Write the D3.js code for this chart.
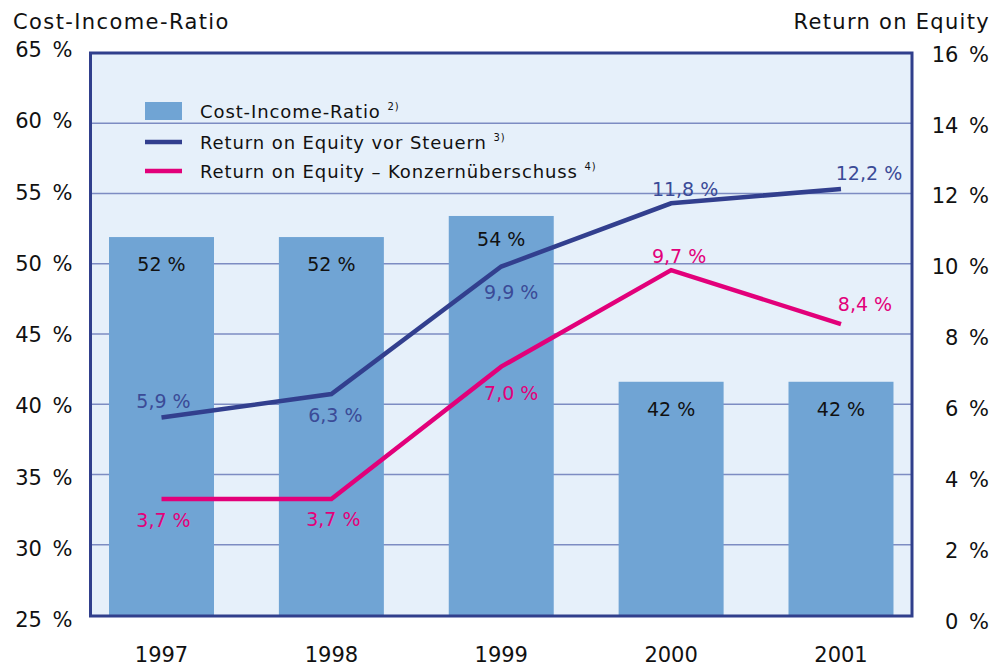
<!DOCTYPE html>
<html><head><meta charset="utf-8">
<script src="https://cdn.jsdelivr.net/npm/d3@7"></script>
<style>
html,body{margin:0;padding:0;background:#fff;}
svg{display:block;font-family:"DejaVu Sans",sans-serif;}
</style></head>
<body>
<svg id="c" width="1007" height="666"></svg>
<script>
const years = ["1997","1998","1999","2000","2001"];
const costIncome = [51.9, 51.9, 53.4, 41.6, 41.6];
const costIncomeLabels = ["52 %","52 %","54 %","42 %","42 %"];
const roeBeforeTax = [5.62, 6.29, 9.92, 11.72, 12.13];
const roeBeforeTaxLabels = ["5,9 %","6,3 %","9,9 %","11,8 %","12,2 %"];
const roeNet = [3.3, 3.3, 7.07, 9.82, 8.28];
const roeNetLabels = ["3,7 %","3,7 %","7,0 %","9,7 %","8,4 %"];
const leftTicks = [25,30,35,40,45,50,55,60,65];
const rightTicks = [0,2,4,6,8,10,12,14,16];
const legendItems = [
  {label:"Cost-Income-Ratio", sup:"2)", type:"bar"},
  {label:"Return on Equity vor Steuern", sup:"3)", type:"roe"},
  {label:"Return on Equity – Konzernüberschuss", sup:"4)", type:"net"}
];

const C = {bg:"#e6f0fa", bar:"#70a4d4", frame:"#303f8c", grid:"#7d8cc2", roe:"#323f8e", net:"#e2007a", roeText:"#3b4b97"};
const svg = d3.select("#c");
const L = 90.5, R = 912, T = 53, B = 616;

const x = d3.scaleBand().domain(years).range([L, R]).paddingInner(0.382).paddingOuter(0.109);
const yL = d3.scaleLinear().domain([25,65]).range([615,53]);
const yR = d3.scaleLinear().domain([0,16]).range([615,53]);
// tick label placement scales (labels are spaced slightly wider than gridlines)
const yLlab = d3.scaleLinear().domain([25,65]).range([619,49]);
const yRlab = d3.scaleLinear().domain([0,16]).range([621,53.5]);

svg.append("rect").attr("x",L).attr("y",T).attr("width",R-L).attr("height",B-T).attr("fill",C.bg);

// gridlines
svg.append("g").selectAll("line").data(leftTicks.filter(d=>d>25&&d<65)).join("line")
  .attr("x1",L).attr("x2",R).attr("y1",d=>yL(d)).attr("y2",d=>yL(d))
  .attr("stroke",C.grid).attr("stroke-width",1.5);

// bars
svg.append("g").selectAll("rect").data(costIncome).join("rect")
  .attr("x",(d,i)=>x(years[i])).attr("width",x.bandwidth())
  .attr("y",d=>yL(d)).attr("height",d=>B-yL(d)).attr("fill",C.bar);

// frame
svg.append("rect").attr("x",L).attr("y",T).attr("width",R-L).attr("height",B-T)
  .attr("fill","none").attr("stroke",C.frame).attr("stroke-width",3);

// bar labels
const barLabOff = [27,27,23,27,27];
svg.append("g").selectAll("text").data(costIncome).join("text")
  .attr("x",(d,i)=>x(years[i])+x.bandwidth()/2)
  .attr("y",(d,i)=>yL(d)+barLabOff[i]+7)
  .attr("text-anchor","middle").attr("font-size",19).attr("fill","#111")
  .text((d,i)=>costIncomeLabels[i]);

const cx = i => x(years[i]) + x.bandwidth()/2;
const line = arr => d3.line().x((d,i)=>cx(i)).y(d=>yR(d))(arr);

svg.append("path").attr("d",line(roeBeforeTax)).attr("fill","none").attr("stroke",C.roe).attr("stroke-width",4.5);
svg.append("path").attr("d",line(roeNet)).attr("fill","none").attr("stroke",C.net).attr("stroke-width",4.5);

// line labels offsets (dx, dy) relative to point
const roeOff = [[2,-10],[4,28],[10,32],[14,-7],[28,-9]];
const netOff = [[2,28],[2,27],[10,33],[8,-7],[24,-13]];
svg.append("g").selectAll("text").data(roeBeforeTax).join("text")
  .attr("x",(d,i)=>cx(i)+roeOff[i][0]).attr("y",(d,i)=>yR(d)+roeOff[i][1])
  .attr("text-anchor","middle").attr("font-size",19).attr("fill",C.roeText)
  .text((d,i)=>roeBeforeTaxLabels[i]);
svg.append("g").selectAll("text").data(roeNet).join("text")
  .attr("x",(d,i)=>cx(i)+netOff[i][0]).attr("y",(d,i)=>yR(d)+netOff[i][1])
  .attr("text-anchor","middle").attr("font-size",19).attr("fill",C.net)
  .text((d,i)=>roeNetLabels[i]);

// axes
function styleAxis(g){
  g.select(".domain").remove();
  g.selectAll("text").attr("font-size",21).attr("fill","#111")
    .attr("font-family","DejaVu Sans").attr("dy","0.36em").attr("word-spacing",4);
}
const axL = svg.append("g").attr("transform",`translate(${L-18},0)`)
  .call(d3.axisLeft(yLlab).tickValues(leftTicks).tickFormat(d=>d+" %").tickSize(0).tickPadding(0));
styleAxis(axL);

const axR = svg.append("g").attr("transform",`translate(989,0)`)
  .call(d3.axisLeft(yRlab).tickValues(rightTicks).tickFormat(d=>d+" %").tickSize(0).tickPadding(0));
styleAxis(axR);

const axB = svg.append("g").attr("transform",`translate(0,0)`)
  .call(d3.axisBottom(x).tickSize(0).tickPadding(0));
axB.select(".domain").remove();
axB.selectAll("text").attr("font-size",21).attr("fill","#111").attr("font-family","DejaVu Sans").attr("y",662).attr("dy",0);

// titles
svg.append("text").attr("x",13).attr("y",29).attr("font-size",21).attr("letter-spacing",1.4).attr("fill","#111").text("Cost-Income-Ratio");
svg.append("text").attr("x",990).attr("y",28.5).attr("text-anchor","end").attr("font-size",21).attr("letter-spacing",1.3).attr("fill","#111").text("Return on Equity");

// legend
const lg = svg.append("g");
const ly = [111, 142, 171];
legendItems.forEach((it,i)=>{
  if(it.type==="bar") lg.append("rect").attr("x",145).attr("y",ly[i]-9).attr("width",37).attr("height",18).attr("fill",C.bar);
  else lg.append("line").attr("x1",145).attr("x2",182).attr("y1",ly[i]).attr("y2",ly[i])
    .attr("stroke",it.type==="roe"?C.roe:C.net).attr("stroke-width",4.5);
  const t = lg.append("text").attr("x",200).attr("y",ly[i]+6.5).attr("font-size",18).attr("letter-spacing",0.9).attr("fill","#111");
  t.append("tspan").text(it.label+" ");
  t.append("tspan").attr("font-size",10).attr("dy",-8).text(it.sup);
});
</script>
</body></html>
